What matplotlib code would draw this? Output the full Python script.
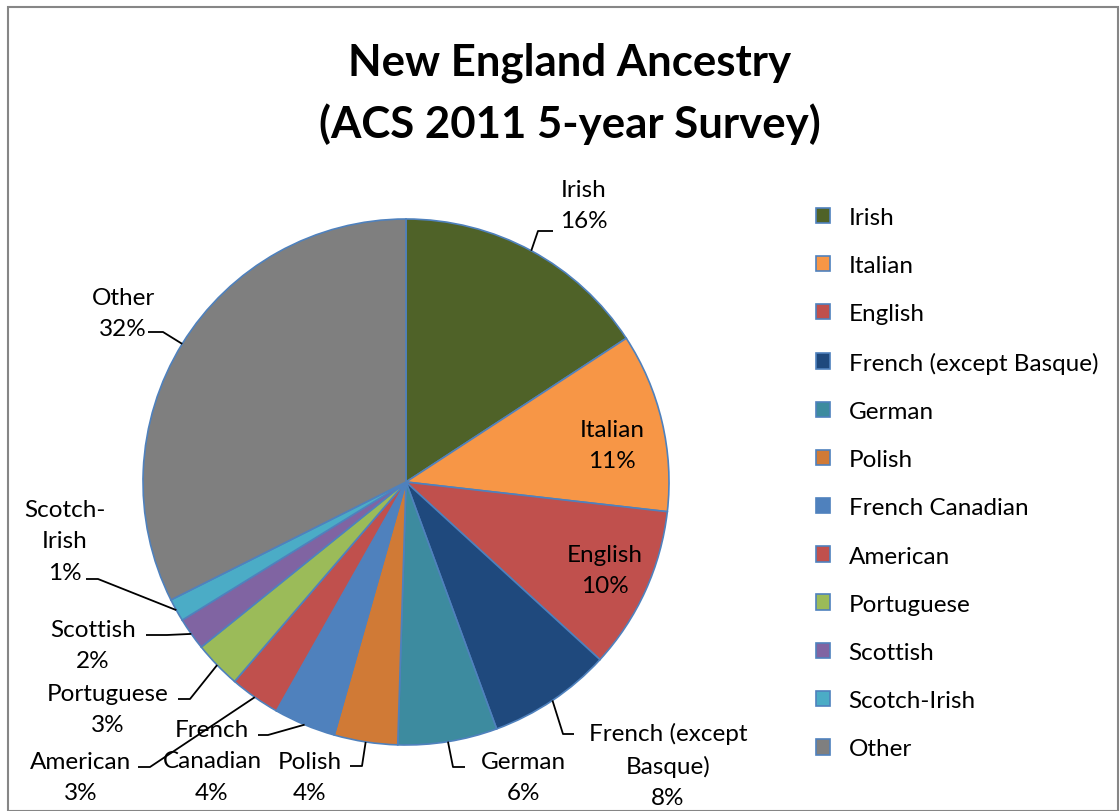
import numpy as np
import matplotlib.pyplot as plt
from matplotlib.patches import Rectangle

plt.rcParams['font.family'] = ['Lato', 'DejaVu Sans']

# data (percent of population)
ancestry = ["Irish", "Italian", "English", "French (except Basque)", "German", "Polish",
            "French Canadian", "American", "Portuguese", "Scottish", "Scotch-Irish", "Other"]
share = [15.8, 11.0, 10.0, 7.6, 6.1, 3.9, 3.8, 3.1, 2.9, 2.0, 1.4, 32.4]
pie_labels = ["Irish", "Italian", "English", "French (except\nBasque)", "German", "Polish",
              "French\nCanadian", "American", "Portuguese", "Scottish", "Scotch-\nIrish", "Other"]
colors = ["#4F6228", "#F79646", "#C0504D", "#1F497D", "#3D8B9F", "#D07A36",
          "#4F81BD", "#C0504D", "#9BBB59", "#8064A2", "#4BACC6", "#7F7F7F"]

W, H = 1120, 812
cx, cy, R = 406, H - 483, 263

# label layout in pixels: text centre, elbow point, line end (None = inside, no line)
label_pos = [
    ((584, 206), (538, 232), (553, 232)),
    ((612, 446), None, None),
    ((605, 571), None, None),
    ((668, 766), (563, 735), (574, 735)),
    ((523, 778), (453, 768), (465, 768)),
    ((310, 778), (362, 767), (350, 767)),
    ((212, 762), (268, 736), (258, 736)),
    ((81, 778), (150, 768), (138, 768)),
    ((108, 710), (190, 700), (178, 700)),
    ((93, 646), (167, 636), (146, 636)),
    ((65, 542), (98, 580), (86, 580)),
    ((123, 314), (163, 333), (148, 333)),
]

fig = plt.figure(figsize=(W / 100, H / 100), dpi=100)
ax = fig.add_axes([0, 0, 1, 1])
wedges, _ = ax.pie(share, colors=colors, startangle=90, counterclock=False,
                   center=(cx, cy), radius=R,
                   wedgeprops=dict(edgecolor="#4F81BD", linewidth=1.2))
ax.set_xlim(0, W)
ax.set_ylim(0, H)
ax.set_aspect("equal")
ax.axis("off")

for w, lab, v, (txt, elbow, end) in zip(wedges, pie_labels, share, label_pos):
    s = "%s\n%.0f%%" % (lab, v)
    ax.text(txt[0], H - txt[1], s, ha="center", va="center", fontsize=17.5,
            linespacing=1.62, color="black")
    if elbow is not None:
        mid = np.deg2rad((w.theta1 + w.theta2) / 2)
        ax_x, ax_y = cx + R * np.cos(mid), cy + R * np.sin(mid)
        ax.plot([ax_x, elbow[0], end[0]], [ax_y, H - elbow[1], H - end[1]],
                color="black", lw=1.3, solid_capstyle="butt")

ax.text(570, H - 94, "New England Ancestry\n(ACS 2011 5-year Survey)", ha="center",
        va="center", fontsize=31.5, fontweight="bold", linespacing=1.6)

leg = ax.legend(wedges, ancestry, loc="upper left", bbox_to_anchor=(794 / W, 1 - 186 / H),
                frameon=False, fontsize=17.5, handlelength=0.6, handleheight=0.6,
                labelspacing=1.12, handletextpad=0.75)

fig.patches.append(Rectangle((8 / W, 0), 1110 / W, 1 - 8 / H, transform=fig.transFigure,
                             fill=False, edgecolor="#868686", lw=1.5))
fig.savefig("out.png", dpi=100)
